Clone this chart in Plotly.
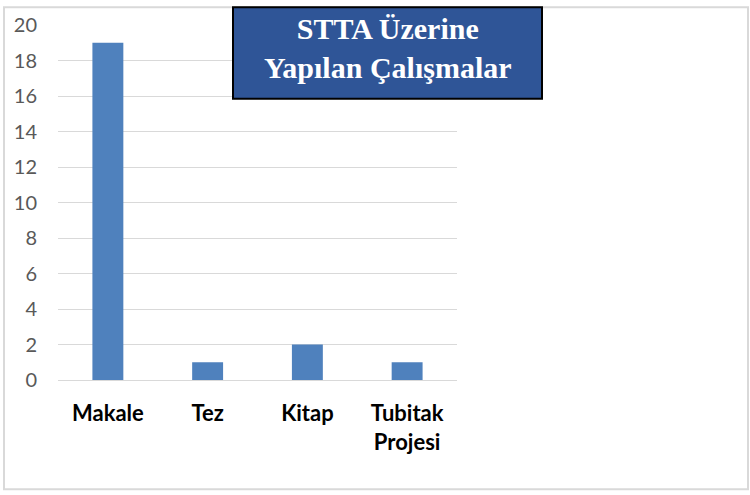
import plotly.graph_objects as go

categories = ["Makale", "Tez", "Kitap", "Tubitak<br>Projesi"]
values = [19, 1, 2, 1]
y_ticks = list(range(0, 21, 2))
title_text = "STTA Üzerine<br>Yapılan Çalışmalar"

L, R, T, B = 58, 457, 19, 380
W, H = 750, 495

def px(x):
    return (x - L) / (R - L)

def py(y):
    return (B - y) / (B - T)

fig = go.Figure(go.Bar(x=categories, y=values, marker_color="#4F81BD", marker_line_width=0))

fig.update_layout(
    width=W, height=H,
    margin=dict(l=L, r=W - R, t=T, b=H - B),
    paper_bgcolor="white", plot_bgcolor="white",
    bargap=0.69, showlegend=False,
    xaxis=dict(showgrid=False, showline=False, ticks="", ticklabelstandoff=18,
               tickfont=dict(family="Lato", size=22, color="black", weight="bold")),
    yaxis=dict(range=[0, 20], tickvals=y_ticks, showgrid=True, gridcolor="#D9D9D9",
               gridwidth=1, zeroline=True, zerolinecolor="#D9D9D9", zerolinewidth=1,
               showline=False, ticks="", ticklabelstandoff=20,
               tickfont=dict(family="Lato", size=20, color="#595959")),
    shapes=[
        dict(type="rect", xref="paper", yref="paper", x0=px(4), x1=px(748), y0=py(491), y1=py(1),
             line=dict(color="#D9D9D9", width=2), fillcolor="rgba(0,0,0,0)", layer="below"),
        dict(type="rect", xref="paper", yref="paper", x0=px(233), x1=px(542), y0=py(94), y1=py(1),
             line=dict(color="black", width=2), fillcolor="#2F5597", layer="above"),
    ],
    annotations=[
        dict(text=title_text, xref="paper", yref="paper", x=px(387.5), y=py(42),
             xanchor="center", yanchor="middle", showarrow=False, align="center",
             font=dict(family="Liberation Serif", size=30, color="white", weight="bold")),
    ],
)

fig.write_html("out.html", config={"displayModeBar": False},
               post_script="document.body.style.margin='0';document.body.style.overflow='hidden';")
